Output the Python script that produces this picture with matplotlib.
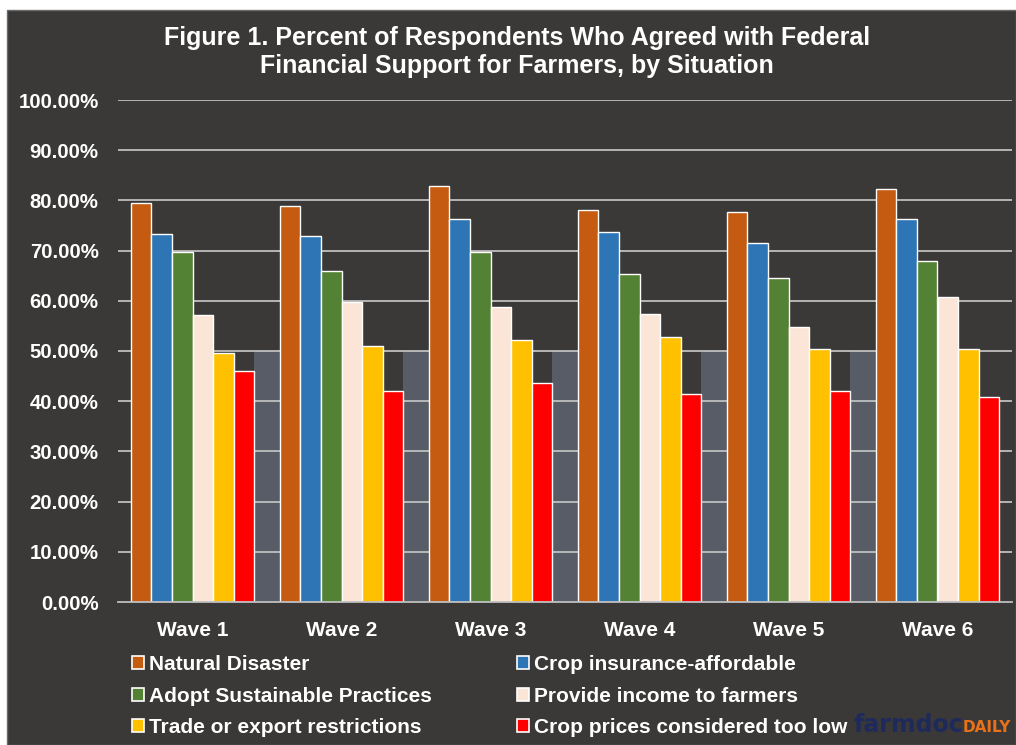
import matplotlib
matplotlib.use("Agg")
import matplotlib.pyplot as plt
from matplotlib.patches import Rectangle, Patch
from matplotlib.ticker import FuncFormatter, MultipleLocator
import numpy as np

waves = ["Wave 1", "Wave 2", "Wave 3", "Wave 4", "Wave 5", "Wave 6"]
series_names = ["Natural Disaster", "Crop insurance-affordable", "Adopt Sustainable Practices",
                "Provide income to farmers", "Trade or export restrictions", "Crop prices considered too low"]
natural_disaster = [79.5, 78.8, 82.8, 78.1, 77.6, 82.2]
crop_insurance = [73.4, 72.9, 76.2, 73.8, 71.5, 76.2]
sustainable = [69.8, 65.9, 69.7, 65.3, 64.5, 67.9]
provide_income = [57.1, 59.8, 58.7, 57.4, 54.8, 60.7]
trade_restrictions = [49.7, 50.9, 52.2, 52.8, 50.4, 50.3]
crop_prices_low = [46.0, 42.1, 43.6, 41.4, 42.0, 40.8]
series_values = [natural_disaster, crop_insurance, sustainable, provide_income,
                 trade_restrictions, crop_prices_low]
colors = ["#C55A11", "#2E75B6", "#548235", "#FBE5D6", "#FFC000", "#FF0000"]

BG = "#3A3937"
BAND = "#585C66"
GRID = "#BFBFBF"
FONT = "Liberation Sans"

fig = plt.figure(figsize=(10.16, 7.45), dpi=100)
fig.patch.set_facecolor("white")
# dark chart area
fig.patches.append(Rectangle((7 / 1016, 0), 1 - 7 / 1016, 1 - 10 / 745, transform=fig.transFigure,
                             facecolor=BG, edgecolor="#6b6b6b", linewidth=1.0, zorder=-5))

ax = fig.add_axes([118 / 1016, 1 - 602 / 745, (1012 - 118) / 1016, (602 - 100) / 745])
ax.set_facecolor("none")
ax.set_zorder(2)

x = np.arange(len(waves))
n = len(series_values)
bw = 0.1376
offsets = (np.arange(n) - (n - 1) / 2) * bw

ax.set_xlim(-0.5, len(waves) - 0.5)
ax.set_ylim(0, 100)
ax.yaxis.set_major_locator(MultipleLocator(10))
ax.yaxis.set_major_formatter(FuncFormatter(lambda v, p: f"{v:.2f}%"))

# gray band between groups (0-50%)
for i in range(len(waves) - 1):
    left = x[i] + offsets[-1] + bw / 2
    right = x[i + 1] + offsets[0] - bw / 2
    ax.add_patch(Rectangle((left, 0), right - left, 50, facecolor=BAND, edgecolor="none", zorder=0.1))

# horizontal gridlines above the band, below the bars
yt = [t for t in ax.get_yticks() if 0 < t <= 100]
ax.hlines(yt, -0.5, len(waves) - 0.5, colors=GRID, linewidth=1.3, zorder=1)

for k, vals in enumerate(series_values):
    ax.bar(x + offsets[k], vals, width=bw, color=colors[k], edgecolor="white", linewidth=1.0,
           zorder=3, label=series_names[k])

ax.set_xlim(-0.5, len(waves) - 0.5)
ax.set_ylim(0, 100)
for sp in ["left", "right", "top"]:
    ax.spines[sp].set_visible(False)
ax.spines["bottom"].set_color(GRID)
ax.spines["bottom"].set_linewidth(1.3)
ax.spines["bottom"].set_zorder(4)
ax.tick_params(axis="y", length=0, pad=14, labelcolor="white", labelsize=14.7)
ax.tick_params(axis="x", length=0, pad=14, labelcolor="white", labelsize=15)
ax.set_xticks(x)
ax.set_xticklabels(waves)
for lab in ax.get_yticklabels() + ax.get_xticklabels():
    lab.set_fontfamily(FONT)
    lab.set_fontweight("bold")

fig.text(0.509, 1 - 38 / 745, "Figure 1. Percent of Respondents Who Agreed with Federal",
         ha="center", va="center", color="white", fontsize=18, fontweight="bold", family=FONT)
fig.text(0.509, 1 - 66 / 745, "Financial Support for Farmers, by Situation",
         ha="center", va="center", color="white", fontsize=18, fontweight="bold", family=FONT)

handles = [Patch(facecolor=colors[k], edgecolor="white", linewidth=1.2, label=series_names[k]) for k in range(n)]
for xa, idxs in [(128 / 1016, [0, 2, 4]), (513 / 1016, [1, 3, 5])]:
    leg = fig.legend([handles[i] for i in idxs], [series_names[i] for i in idxs],
                     loc="upper left", bbox_to_anchor=(xa, 1 - 651 / 745), frameon=False,
                     handlelength=0.58, handleheight=0.58, handletextpad=0.25, labelspacing=0.6,
                     borderaxespad=0, borderpad=0.2,
                     prop={"family": FONT, "weight": "bold", "size": 15})
    for t in leg.get_texts():
        t.set_color("white")

# logo
fig.text(853 / 1016, 1 - 725 / 745, "farmdoc", ha="left", va="center", color="#1F2A5C",
         fontsize=17, fontweight="bold", family="DejaVu Sans")
fig.text(963 / 1016, 1 - 727 / 745, "DAILY", ha="left", va="center", color="#E8711A",
         fontsize=11, fontweight="bold", family="DejaVu Sans")

fig.savefig("out.png", dpi=100, facecolor=fig.get_facecolor())
